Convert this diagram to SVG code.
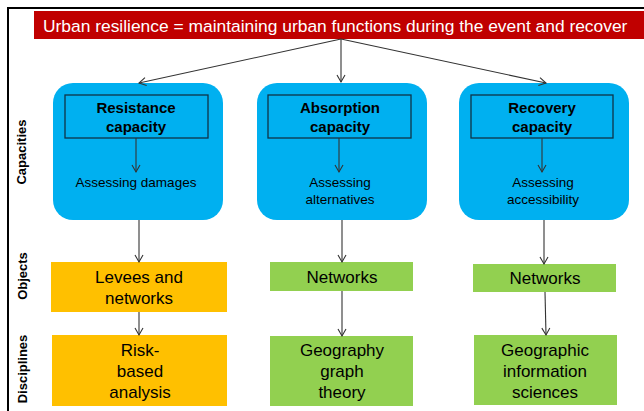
<svg xmlns="http://www.w3.org/2000/svg" width="644" height="411" viewBox="0 0 644 411">
<style>
text{font-family:"Liberation Sans",Arial,sans-serif;fill:#000;text-anchor:middle}
.cap{fill:#00B0F0}
.inner{fill:none;stroke:#0f3347;stroke-width:1.3}
.t-bold{font-weight:bold;font-size:15px}
.t-small{font-size:13.5px}
.t-big{font-size:17px}
.side{font-weight:bold;font-size:13px}
.org{fill:#FFC000}
.grn{fill:#92D050}
.conn line{stroke:#333;stroke-width:1.1;marker-end:url(#arr)}
</style>
<defs>
<marker id="arr" markerUnits="userSpaceOnUse" markerWidth="12" markerHeight="12" viewBox="0 0 12 12" refX="10" refY="6" orient="auto">
<path d="M3,2 L10,6 L3,10" fill="none" stroke="#333" stroke-width="1.1"/>
</marker>
</defs>
<rect width="644" height="411" fill="#fff"/>
<g id="frame" stroke="#000" stroke-width="2" fill="none">
<line x1="7" y1="8" x2="644" y2="8"/>
<line x1="8" y1="7" x2="8" y2="411"/>
</g>
<g id="title">
<rect x="34" y="11" width="610" height="28" fill="#C00000"/>
<text x="43" y="32" style="text-anchor:start;fill:#fff;font-size:17.4px">Urban resilience = maintaining urban functions during the event and recover</text>
</g>
<g id="labels">
<text class="side" transform="translate(26,152) rotate(-90)">Capacities</text>
<text class="side" transform="translate(27,276) rotate(-90)">Objects</text>
<text class="side" transform="translate(27,369) rotate(-90)">Disciplines</text>
</g>
<g id="resistance">
<rect class="cap" x="53" y="83" width="170" height="137" rx="20"/>
<rect class="inner" x="65" y="95" width="143" height="43"/>
<text class="t-bold" x="136" y="113">Resistance</text>
<text class="t-bold" x="136" y="132">capacity</text>
<text class="t-small" x="136" y="187">Assessing damages</text>
</g>
<g id="absorption">
<rect class="cap" x="257" y="83" width="170" height="137" rx="20"/>
<rect class="inner" x="268" y="95" width="143" height="43"/>
<text class="t-bold" x="340" y="113">Absorption</text>
<text class="t-bold" x="340" y="132">capacity</text>
<text class="t-small" x="340" y="187">Assessing</text>
<text class="t-small" x="340" y="204">alternatives</text>
</g>
<g id="recovery">
<rect class="cap" x="459" y="83" width="170" height="137" rx="20"/>
<rect class="inner" x="471" y="95" width="142" height="43"/>
<text class="t-bold" x="542" y="113">Recovery</text>
<text class="t-bold" x="542" y="132">capacity</text>
<text class="t-small" x="543" y="187">Assessing</text>
<text class="t-small" x="543" y="204">accessibility</text>
</g>
<g id="levees">
<rect class="org" x="51" y="262" width="176" height="50"/>
<text class="t-big" x="139" y="283">Levees and</text>
<text class="t-big" x="139" y="304">networks</text>
</g>
<g id="risk">
<rect class="org" x="52" y="335" width="175" height="71"/>
<text class="t-big" x="140" y="356">Risk-</text>
<text class="t-big" x="140" y="377">based</text>
<text class="t-big" x="140" y="398">analysis</text>
</g>
<g id="networks-mid">
<rect class="grn" x="270" y="262" width="143" height="29"/>
<text class="t-big" x="342" y="283">Networks</text>
</g>
<g id="geography">
<rect class="grn" x="270" y="336" width="143" height="70"/>
<text class="t-big" x="342" y="356">Geography</text>
<text class="t-big" x="342" y="377">graph</text>
<text class="t-big" x="342" y="398">theory</text>
</g>
<g id="networks-right">
<rect class="grn" x="473" y="264" width="143" height="28"/>
<text class="t-big" x="545" y="284">Networks</text>
</g>
<g id="gis">
<rect class="grn" x="474" y="335" width="143" height="70"/>
<text class="t-big" x="545" y="356">Geographic</text>
<text class="t-big" x="545" y="377">information</text>
<text class="t-big" x="545" y="398">sciences</text>
</g>
<g id="connectors" class="conn">
<line x1="341" y1="39" x2="139" y2="83"/>
<line x1="341" y1="39" x2="341" y2="82"/>
<line x1="341" y1="39" x2="546" y2="83"/>
<line x1="136" y1="138" x2="136" y2="172"/>
<line x1="339" y1="138" x2="339" y2="172"/>
<line x1="542" y1="138" x2="542" y2="172"/>
<line x1="139" y1="220" x2="139" y2="262"/>
<line x1="342" y1="220" x2="342" y2="262"/>
<line x1="544" y1="220" x2="544" y2="264"/>
<line x1="139" y1="312" x2="139" y2="335"/>
<line x1="342" y1="291" x2="342" y2="336"/>
<line x1="545" y1="292" x2="546" y2="335"/>
</g>
</svg>
